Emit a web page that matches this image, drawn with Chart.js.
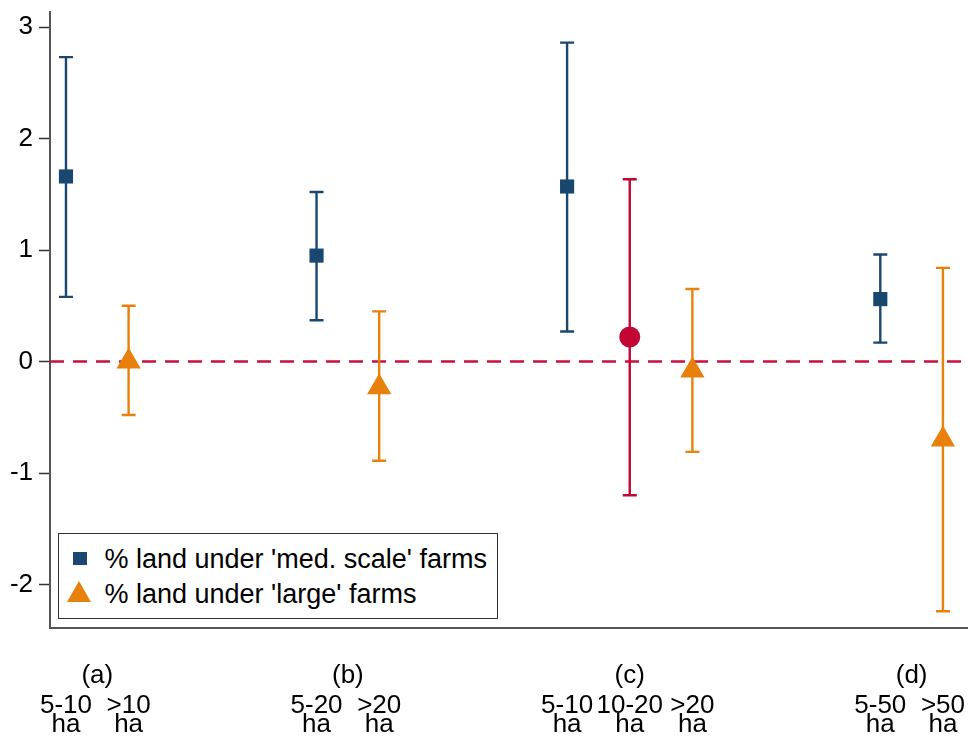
<!DOCTYPE html>
<html>
<head>
<meta charset="utf-8">
<script src="https://cdn.jsdelivr.net/npm/chart.js@4.4.1/dist/chart.umd.min.js"></script>
<style>
  body { margin: 0; background: #fff; }
  #wrap { position: relative; width: 968px; height: 744px; }
  #legendBox {
    position: absolute; left: 58px; top: 533px; width: 440px; height: 86px;
    border: 1.5px solid #333; background: #fff; box-sizing: border-box;
    font-family: "Liberation Sans", Arial, sans-serif; font-size: 27px; color: #000;
  }
  .lg-text { position: absolute; left: 45.5px; line-height: 30px; white-space: nowrap; }
  .lg-sq { position: absolute; left: 13.5px; top: 17.5px; width: 14px; height: 13px; background: #1a476f; }
  .lg-tri { position: absolute; left: 7.5px; top: 46.5px; width: 0; height: 0;
    border-left: 12.5px solid transparent; border-right: 12.5px solid transparent;
    border-bottom: 21px solid #e8800c; }
</style>
</head>
<body>
<div id="wrap">
  <canvas id="chart" width="968" height="744"></canvas>
  <div id="legendBox">
    <div class="lg-sq"></div>
    <div class="lg-text" style="top:9.5px">% land under 'med. scale' farms</div>
    <div class="lg-tri"></div>
    <div class="lg-text" style="top:44.5px">% land under 'large' farms</div>
  </div>
</div>
<script>
const xMin = -0.255;
const xMax = 14.40;
const yMin = -2.39;
const yMax = 3.135;
const yTicks = [-2, -1, 0, 1, 2, 3];

const groupLabels = ["(a)", "(b)", "(c)", "(d)"];
const groupPos = [0.5, 4.5, 9, 13.5];

const catPos = [0, 1, 4, 5, 8, 9, 10, 13, 14];
const catLabels = [
    ["5-10", "ha"], [">10", "ha"],
    ["5-20", "ha"], [">20", "ha"],
    ["5-10", "ha"], ["10-20", "ha"], [">20", "ha"],
    ["5-50", "ha"], [">50", "ha"]
];

// medium scale farms (square)
const medX = [0, 4, 8, 13];
const medY = [1.66, 0.95, 1.57, 0.56];
const medLo = [0.58, 0.37, 0.27, 0.17];
const medHi = [2.73, 1.52, 2.86, 0.96];

// large farms (triangle)
const largeX = [1, 5, 10, 14];
const largeY = [0.00, -0.23, -0.08, -0.70];
const largeLo = [-0.48, -0.89, -0.81, -2.24];
const largeHi = [0.50, 0.45, 0.65, 0.84];

// 10-20 ha in panel (c) (circle)
const midX = [9];
const midY = [0.22];
const midLo = [-1.20];
const midHi = [1.635];

const NAVY = "#1a476f";
const ORANGE = "#e8800c";
const RED = "#c10534";
const FONT = { family: "'Liberation Sans', Arial, sans-serif", size: 26 };

function pts(xs, ys) {
    return xs.map((x, i) => ({ x: x, y: ys[i] }));
}

const errorBars = {
    id: "errorBars",
    beforeDatasetDraw(chart, args) {
        const ds = chart.data.datasets[args.index];
        if (!ds.lo) return;
        const ctx = chart.ctx;
        const xs = chart.scales.x;
        const ys = chart.scales.y;
        ctx.save();
        ctx.strokeStyle = ds.borderColor;
        ctx.lineWidth = 2.4;
        ds.data.forEach((p, i) => {
            const px = xs.getPixelForValue(p.x);
            const lo = ys.getPixelForValue(ds.lo[i]);
            const hi = ys.getPixelForValue(ds.hi[i]);
            ctx.beginPath();
            ctx.moveTo(px, lo); ctx.lineTo(px, hi);
            ctx.moveTo(px - 7, lo); ctx.lineTo(px + 7, lo);
            ctx.moveTo(px - 7, hi); ctx.lineTo(px + 7, hi);
            ctx.stroke();
        });
        ctx.restore();
    }
};

new Chart(document.getElementById("chart"), {
    type: "scatter",
    data: {
        datasets: [
            {
                type: "line",
                data: [{ x: xMin, y: 0 }, { x: xMax, y: 0 }],
                borderColor: "#c8103e",
                borderWidth: 2.5,
                borderDash: [14, 9],
                pointRadius: 0,
                order: 10
            },
            {
                label: "% land under 'med. scale' farms",
                data: pts(medX, medY),
                lo: medLo, hi: medHi,
                pointStyle: "rect",
                pointRadius: 10,
                backgroundColor: NAVY,
                borderColor: NAVY,
                borderWidth: 0,
                order: 1
            },
            {
                label: "% land under 'large' farms",
                data: pts(largeX, largeY),
                lo: largeLo, hi: largeHi,
                pointStyle: "triangle",
                pointRadius: 14,
                backgroundColor: ORANGE,
                borderColor: ORANGE,
                borderWidth: 0,
                order: 1
            },
            {
                label: "10-20 ha",
                data: pts(midX, midY),
                lo: midLo, hi: midHi,
                pointStyle: "circle",
                pointRadius: 10.5,
                backgroundColor: RED,
                borderColor: RED,
                borderWidth: 0,
                order: 1
            }
        ]
    },
    options: {
        responsive: false,
        animation: false,
        layout: { padding: 0, autoPadding: false },
        plugins: {
            legend: { display: false },
            tooltip: { enabled: false }
        },
        scales: {
            xg: {
                type: "linear",
                position: "bottom",
                weight: 0,
                min: xMin,
                max: xMax,
                grid: { display: false },
                border: { display: true, color: "#555", width: 2 },
                afterBuildTicks: s => { s.ticks = groupPos.map(v => ({ value: v })); },
                afterFit: s => { s.height = 60; s.paddingLeft = 0; s.paddingRight = 0; },
                ticks: {
                    autoSkip: false, maxRotation: 0, minRotation: 0,
                    padding: 24,
                    color: "#000",
                    font: FONT,
                    callback: (v, i) => groupLabels[i]
                }
            },
            x: {
                type: "linear",
                position: "bottom",
                weight: 1,
                min: xMin,
                max: xMax,
                grid: { display: false },
                border: { display: false },
                afterBuildTicks: s => { s.ticks = catPos.map(v => ({ value: v })); },
                afterFit: s => { s.height = 56; s.paddingLeft = 0; s.paddingRight = 0; },
                ticks: {
                    autoSkip: false, maxRotation: 0, minRotation: 0,
                    padding: 0,
                    color: "#000",
                    font: Object.assign({}, FONT, { lineHeight: 0.75 }),
                    callback: (v, i) => catLabels[i]
                }
            },
            y: {
                min: yMin,
                max: yMax,
                afterBuildTicks: s => { s.ticks = yTicks.map(v => ({ value: v })); },
                afterFit: s => { s.width = 50; s.paddingTop = 12; s.paddingBottom = 0; },
                grid: {
                    display: true,
                    drawOnChartArea: false,
                    drawTicks: true,
                    tickLength: 11,
                    tickColor: "#333",
                    tickWidth: 1.5
                },
                border: { display: true, color: "#555", width: 2 },
                ticks: {
                    padding: 6,
                    color: "#000",
                    font: FONT
                }
            }
        }
    },
    plugins: [errorBars]
});
</script>
</body>
</html>
